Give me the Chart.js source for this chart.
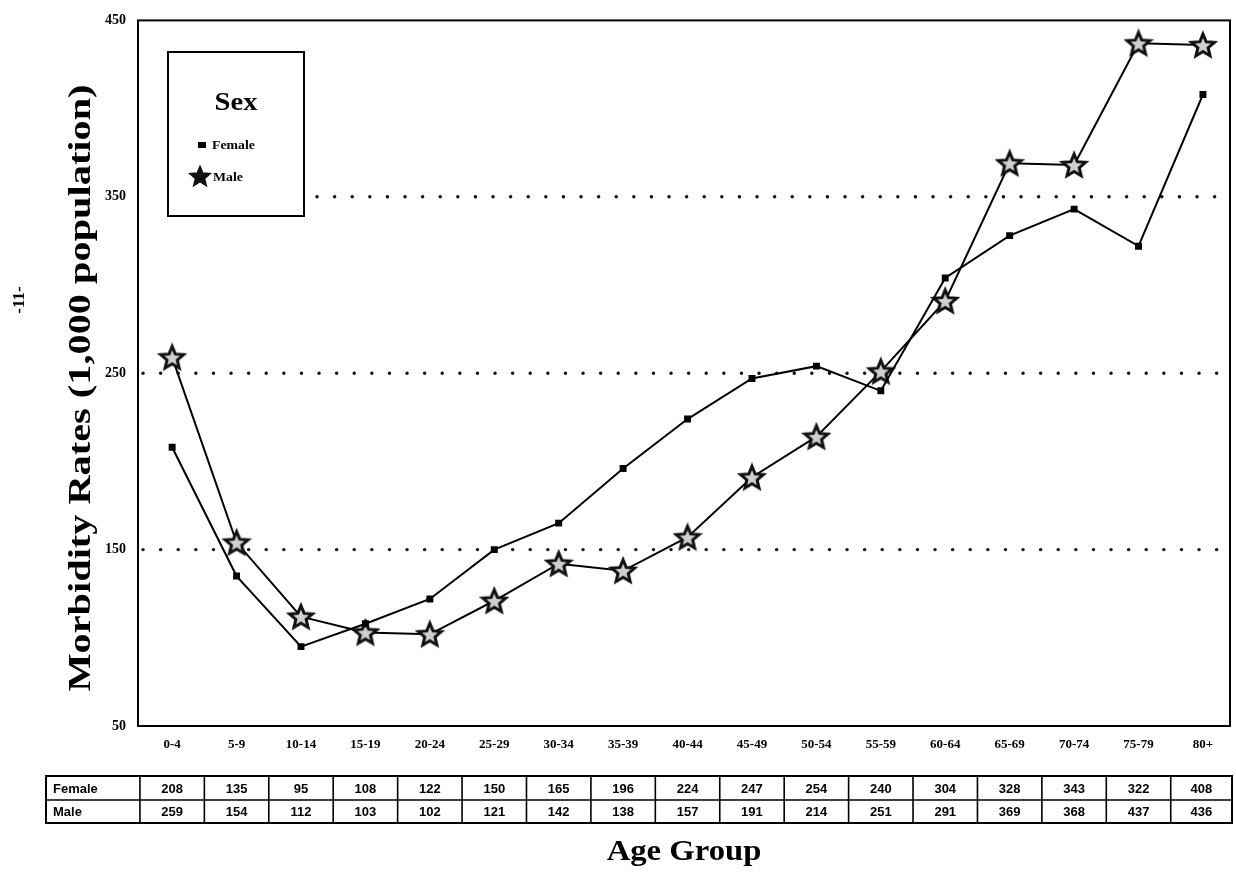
<!DOCTYPE html>
<html>
<head>
<meta charset="utf-8">
<script src="https://cdn.jsdelivr.net/npm/chart.js@4/dist/chart.umd.min.js"></script>
<style>
  html, body { margin: 0; padding: 0; background: #fff; }
  #wrap { width: 1236px; height: 878px; position: relative; }
</style>
</head>
<body>
<div id="wrap"><canvas id="chart"></canvas></div>
<script>
// Data
const ageGroups = ['0-4','5-9','10-14','15-19','20-24','25-29','30-34','35-39','40-44','45-49','50-54','55-59','60-64','65-69','70-74','75-79','80+'];
const femaleRates = [208,135,95,108,122,150,165,196,224,247,254,240,304,328,343,322,408];
const maleRates = [259,154,112,103,102,121,142,138,157,191,214,251,291,369,368,437,436];
const yTicks = [50,150,250,350,450];
const gridValues = [150,250,350];

const serif = '"Liberation Serif", "DejaVu Serif", serif';
const sans = '"Liberation Sans", Arial, sans-serif';

const legendBox = { x: 168, y: 52, w: 136, h: 164 };

// 5-point star marker
function makeStar(r, fill, lw) {
  const c = document.createElement('canvas');
  const s = Math.ceil(r * 2 + 6);
  c.width = s; c.height = s;
  const g = c.getContext('2d');
  g.translate(s / 2, s / 2 + 1);
  g.beginPath();
  for (let i = 0; i < 10; i++) {
    const rad = i % 2 === 0 ? r : r * 0.45;
    const a = -Math.PI / 2 + i * Math.PI / 5;
    g.lineTo(Math.cos(a) * rad, Math.sin(a) * rad);
  }
  g.closePath();
  g.fillStyle = fill;
  g.fill();
  g.lineWidth = lw;
  g.strokeStyle = '#111';
  g.lineJoin = 'miter';
  g.stroke();
  return c;
}
const starImg = makeStar(12, '#d0d0d0', 3);
const starSmall = makeStar(10, '#111', 2);

const toPts = arr => arr.map((v, i) => ({ x: i, y: v }));

// text drawn with a horizontal stretch, to get the wide serif of the original
function wideText(ctx, text, x, y, size, stretch, angle) {
  ctx.save();
  ctx.translate(x, y);
  if (angle) ctx.rotate(angle);
  ctx.scale(stretch, 1);
  ctx.font = 'bold ' + size + 'px ' + serif;
  ctx.textAlign = 'center';
  ctx.textBaseline = 'middle';
  ctx.fillText(text, 0, 0);
  ctx.restore();
}

// dotted gridlines, stopped by the legend box
const dottedGrid = {
  id: 'dottedGrid',
  beforeDatasetsDraw(chart) {
    const { ctx, chartArea: a, scales: { y } } = chart;
    ctx.save();
    ctx.strokeStyle = '#111';
    ctx.lineWidth = 3.4;
    ctx.lineCap = 'round';
    ctx.setLineDash([0.1, 17.5]);
    gridValues.forEach(v => {
      const py = y.getPixelForValue(v);
      let x0 = a.left + 5;
      if (py > legendBox.y && py < legendBox.y + legendBox.h) x0 = legendBox.x + legendBox.w + 13;
      ctx.beginPath();
      ctx.moveTo(x0, py);
      ctx.lineTo(a.right - 4, py);
      ctx.stroke();
    });
    ctx.restore();
  }
};

// frame, table, titles and legend
const decorations = {
  id: 'decorations',
  afterDraw(chart) {
    const { ctx, chartArea: a, scales: { x } } = chart;
    ctx.save();

    // plot frame
    ctx.strokeStyle = '#000';
    ctx.lineWidth = 2;
    ctx.strokeRect(a.left, a.top, a.right - a.left, a.bottom - a.top);

    // legend box
    const L = legendBox;
    ctx.fillStyle = '#fff';
    ctx.fillRect(L.x, L.y, L.w, L.h);
    ctx.lineWidth = 2;
    ctx.strokeRect(L.x, L.y, L.w, L.h);
    ctx.fillStyle = '#000';
    wideText(ctx, 'Sex', L.x + L.w / 2, 103, 26, 1.1);
    ctx.font = 'bold 12px ' + serif;
    ctx.textAlign = 'left';
    ctx.textBaseline = 'middle';
    ctx.fillRect(198, 142, 8, 6);
    ctx.save();
    ctx.translate(212, 146);
    ctx.scale(1.15, 1);
    ctx.fillText('Female', 0, 0);
    ctx.restore();
    ctx.drawImage(starSmall, 200 - starSmall.width / 2, 176 - starSmall.height / 2);
    ctx.save();
    ctx.translate(213, 178);
    ctx.scale(1.15, 1);
    ctx.fillText('Male', 0, 0);
    ctx.restore();

    // data table under the axis
    const top = 776, mid = 800, bot = 823, tLeft = 46, tRight = 1232;
    const edges = [tLeft];
    for (let i = 0; i <= ageGroups.length; i++) {
      edges.push(Math.min(x.getPixelForValue(i - 0.5), tRight));
    }
    ctx.lineWidth = 2;
    ctx.strokeRect(tLeft, top, tRight - tLeft, bot - top);
    ctx.lineWidth = 1.6;
    ctx.beginPath();
    ctx.moveTo(tLeft, mid); ctx.lineTo(tRight, mid);
    edges.slice(1, -1).forEach(e => { ctx.moveTo(e, top); ctx.lineTo(e, bot); });
    ctx.stroke();

    ctx.font = 'bold 13px ' + sans;
    ctx.textAlign = 'left';
    ctx.fillText('Female', 53, (top + mid) / 2 + 1);
    ctx.fillText('Male', 53, (mid + bot) / 2 + 1);
    ctx.textAlign = 'center';
    ageGroups.forEach((g, i) => {
      const cx = (edges[i + 1] + edges[i + 2]) / 2;
      ctx.fillText(String(femaleRates[i]), cx, (top + mid) / 2 + 1);
      ctx.fillText(String(maleRates[i]), cx, (mid + bot) / 2 + 1);
    });

    // axis titles
    wideText(ctx, 'Age Group', (a.left + a.right) / 2, 852, 30, 1.09);
    wideText(ctx, 'Morbidity Rates (1,000 population)', 82, 388, 32, 1.26, -Math.PI / 2);

    // page number in the margin
    wideText(ctx, '-11-', 20, 300, 17, 1, -Math.PI / 2);

    ctx.restore();
  }
};

new Chart(document.getElementById('chart'), {
  type: 'line',
  data: {
    datasets: [
      {
        label: 'Female',
        data: toPts(femaleRates),
        borderColor: '#000',
        backgroundColor: '#000',
        borderWidth: 2,
        pointStyle: 'rect',
        pointRadius: 3.5,
        pointHoverRadius: 3.5,
        tension: 0
      },
      {
        label: 'Male',
        data: toPts(maleRates),
        borderColor: '#000',
        backgroundColor: '#000',
        borderWidth: 2,
        pointStyle: starImg,
        tension: 0
      }
    ]
  },
  options: {
    responsive: true,
    maintainAspectRatio: false,
    animation: false,
    layout: { padding: { top: 17, right: 5, left: 0, bottom: 0 } },
    plugins: {
      legend: { display: false },
      tooltip: { enabled: false }
    },
    scales: {
      x: {
        type: 'linear',
        min: -0.53,
        max: 16.42,
        afterBuildTicks: s => { s.ticks = ageGroups.map((g, i) => ({ value: i })); },
        afterFit: s => { s.height = 152; },
        grid: { display: false, drawTicks: false },
        border: { display: false },
        ticks: {
          autoSkip: false,
          maxRotation: 0,
          padding: 11,
          color: '#000',
          font: { family: serif, size: 13, weight: 'bold' },
          callback: v => ageGroups[v]
        }
      },
      y: {
        min: 50,
        max: 450,
        afterBuildTicks: s => { s.ticks = yTicks.map(v => ({ value: v })); },
        afterFit: s => { s.width = 138; },
        border: { display: false },
        grid: { display: false, drawTicks: false },
        ticks: {
          padding: 12,
          color: '#000',
          font: { family: serif, size: 14, weight: 'bold' }
        }
      }
    }
  },
  plugins: [dottedGrid, decorations]
});
</script>
</body>
</html>
